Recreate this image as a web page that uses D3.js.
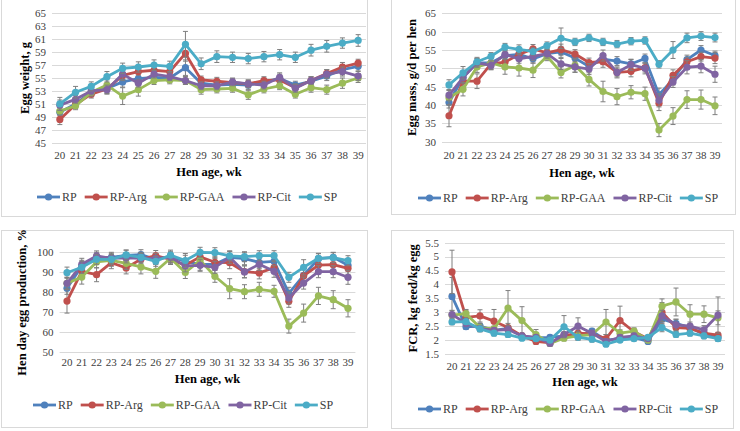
<!DOCTYPE html>
<html><head><meta charset="utf-8">
<script src="https://cdn.jsdelivr.net/npm/d3@7"></script>
<style>
body{margin:0;background:#fff}
svg{display:block}
text{font-family:"Liberation Serif","Times New Roman",serif}
</style>
</head><body>
<svg id="c" width="740" height="431"></svg>
<script>
const weeks = [20,21,22,23,24,25,26,27,28,29,30,31,32,33,34,35,36,37,38,39];
const seriesNames = ["RP","RP-Arg","RP-GAA","RP-Cit","SP"];
const seriesColors = ["#4F81BD","#C0504D","#9BBB59","#8064A2","#4BACC6"];

// Egg weight, g
const ewRP  = [49.7,51.0,52.8,53.4,54.4,54.9,55.1,55.0,56.6,54.2,53.9,54.0,53.9,54.4,54.9,53.9,54.5,55.3,56.3,56.8];
const ewArg = [48.6,50.9,52.5,53.3,55.4,56.0,56.2,56.0,58.8,54.7,54.5,54.3,54.1,54.6,54.7,53.5,54.6,55.7,56.7,57.3];
const ewGAA = [49.9,50.7,52.8,53.9,52.2,53.2,54.6,54.7,54.6,53.2,53.3,53.4,52.4,53.3,53.8,52.5,53.5,53.2,54.2,55.0];
const ewCit = [50.8,51.7,53.0,53.2,55.6,54.2,55.6,55.2,54.6,53.8,53.8,54.4,54.1,53.9,55.1,53.4,54.6,55.6,56.0,55.3];
const ewSP  = [51.0,52.8,53.7,55.2,56.5,56.7,57.0,56.8,60.2,57.2,58.3,58.2,58.0,58.3,58.6,58.2,59.3,59.9,60.4,60.8];
const ewErrRP  = [0.8,0.7,0.6,0.7,0.8,0.7,0.6,0.6,1.2,0.7,0.6,0.6,0.7,0.6,0.7,0.6,0.6,0.7,0.8,0.7];
const ewErrArg = [0.8,0.6,0.6,0.7,0.8,0.6,0.6,0.6,1.2,0.6,0.6,0.6,0.6,0.6,0.6,0.6,0.6,0.6,0.7,0.6];
const ewErrGAA = [0.7,0.6,0.6,0.8,1.3,1.0,0.6,0.6,0.6,0.7,0.6,0.6,0.7,0.6,0.6,0.6,0.7,0.7,0.8,0.7];
const ewErrCit = [0.8,0.6,0.6,0.7,0.8,0.6,0.6,0.6,0.6,0.6,0.6,0.6,0.6,0.6,0.7,0.6,0.6,0.7,0.7,0.7];
const ewErrSP  = [1.0,0.9,0.7,0.8,0.8,0.8,0.8,0.8,2.0,0.9,0.9,0.8,0.8,0.8,0.8,0.8,0.9,0.9,0.8,0.9];
const ewTicks = [45,47,49,51,53,55,57,59,61,63,65];

// Egg mass, g/d per hen
const emRP  = [40.7,47.5,51.5,51.5,53.5,53.8,52.6,54.0,54.5,52.8,50.5,52.5,52.0,51.2,52.7,42.8,47.0,52.4,55.0,53.5];
const emArg = [37.1,46.5,46.5,51.2,51.7,53.8,55.3,54.2,55.1,53.9,51.6,51.8,48.9,49.2,50.2,40.5,48.1,51.8,53.2,52.8];
const emGAA = [42.0,44.3,50.4,51.5,50.4,50.1,49.5,53.3,48.9,50.8,47.0,43.7,42.3,43.5,43.1,33.2,37.0,41.5,41.5,39.8];
const emCit = [42.7,47.5,51.5,50.8,53.8,52.6,53.3,54.0,51.2,50.4,49.8,53.5,48.9,51.0,50.0,41.3,46.3,50.3,50.6,48.4];
const emSP  = [45.5,48.8,51.8,53.3,55.8,55.2,54.6,56.2,58.2,57.2,58.3,57.2,56.6,57.4,57.6,51.1,55.0,58.3,58.8,58.4];
const emErrRP  = [1.5,1.5,1.2,1.2,1.2,1.2,1.2,1.2,1.5,1.3,1.2,1.5,1.2,1.2,1.2,1.8,1.5,1.2,1.2,1.2];
const emErrArg = [3.0,1.8,2.0,1.5,1.5,1.2,1.2,1.2,1.5,1.2,1.2,1.5,1.2,1.5,1.2,2.0,1.5,1.2,1.2,1.5];
const emErrGAA = [2.0,1.8,1.5,1.5,2.0,2.2,2.0,1.2,1.5,1.8,1.8,2.8,2.2,1.8,1.8,1.8,2.3,2.4,2.6,2.4];
const emErrCit = [1.5,1.5,1.2,1.2,1.2,1.2,1.2,1.2,1.5,1.5,1.5,1.5,1.5,1.5,1.5,1.8,1.5,1.8,1.8,2.2];
const emErrSP  = [1.4,1.7,1.2,1.0,1.0,1.2,1.0,1.0,2.8,1.0,1.0,1.0,1.0,1.0,1.0,1.0,2.3,1.3,1.2,1.2];
const emTicks = [30,35,40,45,50,55,60,65];

// Hen day egg production, %
const hdRP  = [82.0,93.0,97.5,97.5,98.5,98.8,96.5,98.0,95.5,94.0,94.0,97.5,96.8,95.0,95.5,79.5,88.5,96.8,97.5,93.5];
const hdArg = [75.6,90.5,88.8,94.8,92.2,96.5,98.4,96.4,93.5,97.7,95.0,94.8,90.3,89.7,92.3,75.5,88.2,93.6,93.8,92.0];
const hdGAA = [84.5,87.6,95.2,96.0,94.5,92.7,90.5,97.0,89.9,96.0,88.0,81.8,80.3,81.5,80.5,63.1,69.6,78.2,76.3,72.0];
const hdCit = [84.5,94.0,98.2,97.0,97.2,97.0,97.0,97.5,93.2,93.5,92.5,97.5,90.2,94.0,90.5,77.2,84.6,90.3,90.3,87.5];
const hdSP  = [89.8,92.5,96.5,96.5,98.7,97.5,95.5,98.6,95.9,100,99.8,98.2,97.8,98.3,98.3,87.5,92.5,97.0,97.3,95.8];
const hdErrRP  = [3,3,2.5,2.5,2.5,2.5,2.5,2.5,3,3,3,3,3,3,3,3,3,2.5,2.5,3];
const hdErrArg = [6,3.5,3.5,3,3,3,2.5,2.5,3,3,3,3,3,3,3,3,3,3,3,3];
const hdErrGAA = [3,3.5,3,3,3,3.5,3.5,2.5,3,3,3,5,3.5,3.5,3,3.5,4.5,4.3,4.5,4.3];
const hdErrCit = [3,3,2.5,2.5,2.5,2.5,2.5,2.5,3,3,3,3,3,3,3,3,3,3,3,3.5];
const hdErrSP  = [2.8,3,2.5,2.5,2.5,2.5,2.5,2.5,3.5,2.5,2.5,2.5,2.5,2.5,2.5,2.5,3.8,2.5,2.5,2.5];
const hdTicks = [50,60,70,80,90,100];

// FCR, kg feed/kg egg
const fcRP  = [3.57,2.48,2.50,2.35,2.42,2.15,2.08,2.10,2.15,2.15,2.32,2.00,2.05,2.10,1.95,2.75,2.60,2.45,2.20,2.10];
const fcArg = [4.45,2.82,2.87,2.68,2.45,2.15,1.95,1.90,2.15,2.25,2.22,2.05,2.70,2.30,2.05,3.00,2.45,2.42,2.25,2.18];
const fcGAA = [2.90,2.95,2.45,2.40,3.15,2.70,2.20,1.88,2.07,2.15,2.20,2.65,2.25,2.32,2.00,3.22,3.37,2.93,2.93,2.80];
const fcCit = [2.92,2.60,2.42,2.35,2.38,2.15,2.10,1.88,2.20,2.50,2.25,1.95,2.10,2.15,2.05,2.87,2.55,2.50,2.37,2.90];
const fcSP  = [2.65,2.66,2.40,2.25,2.20,2.07,2.05,2.00,2.48,2.10,2.03,1.85,2.00,2.05,2.10,2.45,2.20,2.25,2.15,2.05];
const fcErrRP  = [0.68,0.1,0.1,0.1,0.1,0.08,0.08,0.08,0.1,0.1,0.1,0.1,0.1,0.1,0.08,0.2,0.15,0.1,0.1,0.1];
const fcErrArg = [0.78,0.25,0.22,0.42,0.15,0.1,0.1,0.1,0.1,0.15,0.1,0.15,0.52,0.12,0.1,0.35,0.15,0.12,0.1,0.1];
const fcErrGAA = [0.15,0.15,0.15,0.1,0.63,0.5,0.18,0.1,0.1,0.15,0.1,0.45,0.12,0.12,0.1,0.26,0.5,0.34,0.3,0.25];
const fcErrCit = [0.15,0.1,0.1,0.1,0.1,0.08,0.08,0.08,0.1,0.3,0.1,0.1,0.1,0.1,0.08,0.2,0.2,0.15,0.15,0.65];
const fcErrSP  = [0.1,0.1,0.1,0.1,0.1,0.08,0.08,0.08,0.4,0.1,0.1,0.08,0.08,0.08,0.08,0.15,0.1,0.1,0.1,0.1];
const fcTicks = [1.5,2,2.5,3,3.5,4,4.5,5,5.5];

const svg = d3.select("#c");

const panels = [
  {frame:[1,-2,367,216], x0:52, x1:366, yTop:13.3, yBot:142.7, ticks:ewTicks, fmt:d=>d,
   values:[ewRP,ewArg,ewGAA,ewCit,ewSP], errs:[ewErrRP,ewErrArg,ewErrGAA,ewErrCit,ewErrSP],
   ytitle:"Egg weight, g", ytx:25, xly:159, xty:176, legY:197, legX:37},
  {frame:[391,-2,735,214], x0:442, x1:722, yTop:13.3, yBot:141.8, ticks:emTicks, fmt:d=>d,
   values:[emRP,emArg,emGAA,emCit,emSP], errs:[emErrRP,emErrArg,emErrGAA,emErrCit,emErrSP],
   ytitle:"Egg mass, g/d per hen", ytx:412, xly:159, xty:177, legY:198, legX:418},
  {frame:[1,230,367,427], x0:59.6, x1:355.4, yTop:252.3, yBot:352.3, ticks:hdTicks, fmt:d=>d,
   values:[hdRP,hdArg,hdGAA,hdCit,hdSP], errs:[hdErrRP,hdErrArg,hdErrGAA,hdErrCit,hdErrSP],
   ytitle:"Hen day egg production, %", ytx:22, xly:366, xty:383, legY:405, legX:33},
  {frame:[391,230,733,428], x0:445, x1:725, yTop:242.7, yBot:354, ticks:fcTicks, fmt:d=>d,
   values:[fcRP,fcArg,fcGAA,fcCit,fcSP], errs:[fcErrRP,fcErrArg,fcErrGAA,fcErrCit,fcErrSP],
   ytitle:"FCR, kg feed/kg egg", ytx:413, xly:370, xty:386, legY:409, legX:418}
];

panels.forEach(p => {
  const g = svg.append("g");
  g.append("rect").attr("x",p.frame[0]+0.5).attr("y",p.frame[1]+0.5)
    .attr("width",p.frame[2]-p.frame[0]).attr("height",p.frame[3]-p.frame[1])
    .attr("fill","#fff").attr("stroke","#d9d9d9").attr("stroke-width",1);

  const x = d3.scaleBand().domain(weeks).range([p.x0,p.x1]);
  const y = d3.scaleLinear().domain([d3.min(p.ticks), d3.max(p.ticks)]).range([p.yBot,p.yTop]);
  const cx = d => x(d) + x.bandwidth()/2;

  // gridlines
  g.append("g").selectAll("line").data(p.ticks).join("line")
    .attr("x1",p.x0).attr("x2",p.x1)
    .attr("y1",d=>Math.round(y(d))+0.5).attr("y2",d=>Math.round(y(d))+0.5)
    .attr("stroke","#d9d9d9").attr("stroke-width",1);

  // y tick labels
  g.append("g").selectAll("text").data(p.ticks).join("text")
    .attr("x",p.x0-6).attr("y",d=>y(d)).attr("dy","0.35em")
    .attr("text-anchor","end").attr("font-size",11).attr("fill","#404040")
    .text(p.fmt);

  // x tick labels
  g.append("g").selectAll("text").data(weeks).join("text")
    .attr("x",d=>cx(d)).attr("y",p.xly).attr("text-anchor","middle")
    .attr("font-size",11).attr("fill","#404040").text(d=>d);

  // titles
  g.append("text").attr("x",(p.x0+p.x1)/2).attr("y",p.xty).attr("text-anchor","middle")
    .attr("font-size",12.5).attr("font-weight","bold").attr("fill","#000").text("Hen age, wk");
  g.append("text").attr("transform",`translate(${p.ytx},${(p.yTop+p.yBot)/2}) rotate(-90)`)
    .attr("text-anchor","middle").attr("dy","0.35em")
    .attr("font-size",12.5).attr("font-weight","bold").attr("fill","#000").text(p.ytitle);

  // series
  const line = d3.line().x((d,i)=>cx(weeks[i])).y(d=>y(d));
  seriesNames.forEach((name,si) => {
    const vals = p.values[si], errs = p.errs[si];
    const sg = g.append("g");
    const eb = sg.append("g").attr("stroke","#7f7f7f").attr("stroke-width",1);
    vals.forEach((v,i) => {
      const xx = cx(weeks[i]);
      const yh = y(v+errs[i]), yl = y(v-errs[i]);
      eb.append("line").attr("x1",xx).attr("x2",xx).attr("y1",yh).attr("y2",yl);
      eb.append("line").attr("x1",xx-2.5).attr("x2",xx+2.5).attr("y1",yh).attr("y2",yh);
      eb.append("line").attr("x1",xx-2.5).attr("x2",xx+2.5).attr("y1",yl).attr("y2",yl);
    });
    sg.append("path").attr("d",line(vals)).attr("fill","none")
      .attr("stroke",seriesColors[si]).attr("stroke-width",2.8).attr("stroke-linejoin","round");
    sg.append("g").selectAll("circle").data(vals).join("circle")
      .attr("cx",(d,i)=>cx(weeks[i])).attr("cy",d=>y(d)).attr("r",3.6)
      .attr("fill",seriesColors[si]);
  });

  // legend
  let lx = p.legX;
  seriesNames.forEach((name,si) => {
    g.append("line").attr("x1",lx).attr("x2",lx+23).attr("y1",p.legY).attr("y2",p.legY)
      .attr("stroke",seriesColors[si]).attr("stroke-width",2.8);
    g.append("circle").attr("cx",lx+11.5).attr("cy",p.legY).attr("r",3.6).attr("fill",seriesColors[si]);
    const t = g.append("text").attr("x",lx+25).attr("y",p.legY).attr("dy","0.35em")
      .attr("font-size",12).attr("fill","#404040").text(name);
    lx += 25 + t.node().getComputedTextLength() + 8;
  });
});
</script>
</body></html>
